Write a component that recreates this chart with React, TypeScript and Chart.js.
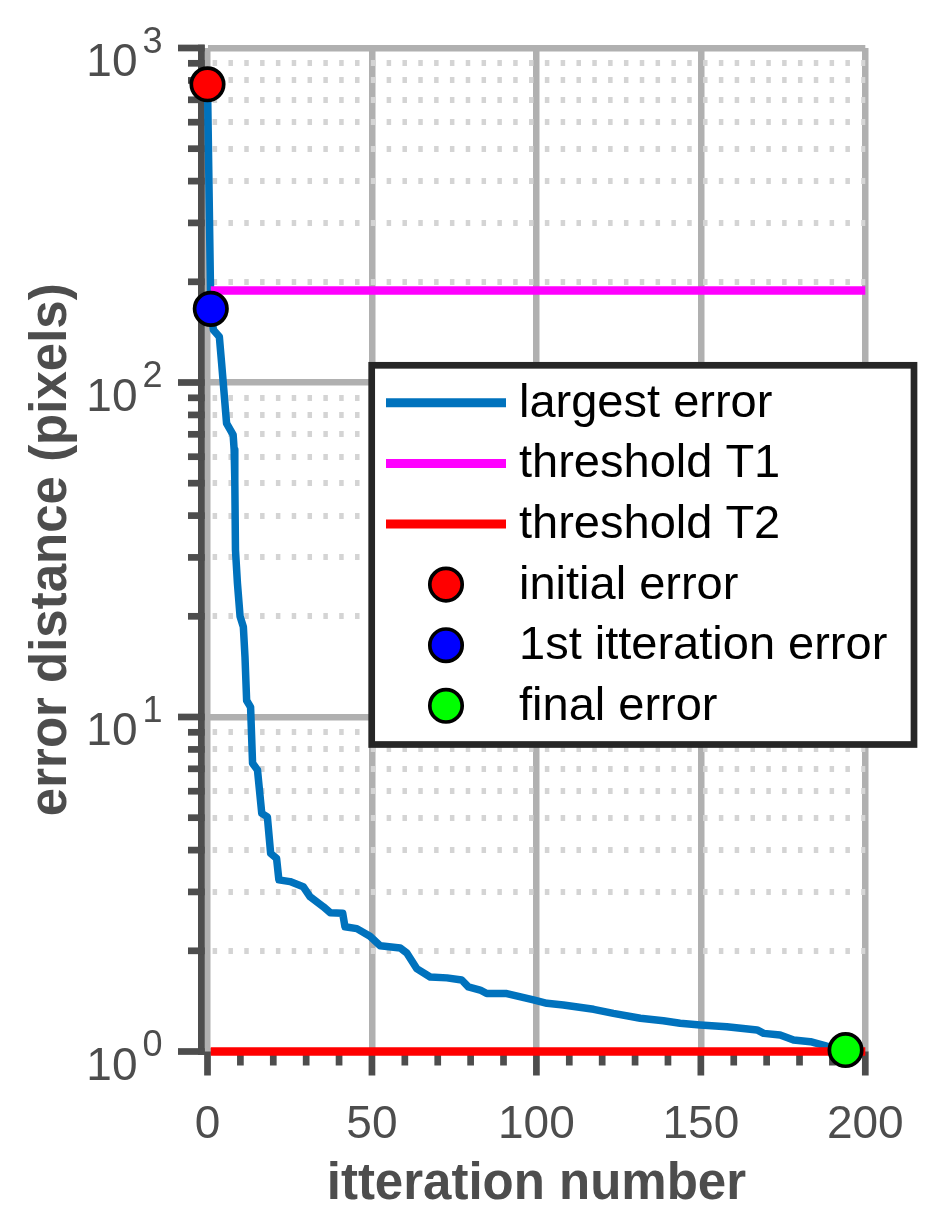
import React, { useEffect, useRef } from 'react';
import { Chart, registerables } from 'chart.js';

Chart.register(...registerables);

// ---------------- data ----------------
const ITERATIONS = [
  0, 1, 1.8, 3.6, 4.3, 5.8, 7.8, 8.1, 8.3, 8.5, 9.1, 9.9, 10.9, 11.4, 11.9, 13.1, 13.7,
  15.2, 16.5, 18.2, 19.2, 21, 21.7, 25.1, 29.1, 31.2, 35.2, 37.3, 41.1, 41.8, 45.4,
  49.4, 52.5, 58.6, 60.6, 63.6, 67.7, 72.8, 77.3, 79.3, 82.9, 84.9, 91, 99.1, 103.2,
  108.2, 117.4, 123.4, 131.6, 138.6, 143.7, 149.8, 157.9, 167.1, 169.1, 174.1, 178.2,
  183.3, 188.3, 194,
];
const LARGEST_ERROR = [
  779, 166, 143.5, 137, 114, 75.5, 69.7, 62.9, 51.1, 31.6, 25.1, 20, 18.6, 15.1, 11.2, 10.7, 7.27,
  6.94, 5.15, 5.03, 3.91, 3.78, 3.26, 3.22, 3.11, 2.9, 2.71, 2.6, 2.59, 2.36, 2.33,
  2.21, 2.07, 2.04, 1.97, 1.77, 1.67, 1.66, 1.636, 1.56, 1.527, 1.49, 1.49, 1.426, 1.393,
  1.377, 1.337, 1.3, 1.257, 1.236, 1.214, 1.2, 1.186, 1.16, 1.133, 1.12, 1.082,
  1.07, 1.038, 1.01,
];
const THRESHOLD_X = [1, 200];
const THRESHOLD_T1 = 188.5;
const THRESHOLD_T2 = 1;

const X_TICKS = [0, 10, 20, 30, 40, 50, 60, 70, 80, 90, 100, 110, 120, 130, 140, 150, 160, 170, 180, 190, 200];
const X_LABELED = [0, 50, 100, 150, 200];
const Y_TICKS = [
  1, 2, 3, 4, 5, 6, 7, 8, 9,
  10, 20, 30, 40, 50, 60, 70, 80, 90,
  100, 200, 300, 400, 500, 600, 700, 800, 900,
  1000,
];
const Y_DECADES = [1, 10, 100, 1000];

const SERIES_LABELS = [
  'largest error',
  'threshold T1',
  'threshold T2',
  'initial error',
  '1st itteration error',
  'final error',
];
const X_TITLE = 'itteration number';
const Y_TITLE = 'error distance (pixels)';

// ---------------- styles ----------------
const W = 936;
const H = 1225;
const FONT = '"Liberation Sans", Arial, Helvetica, sans-serif';
const TEXT = '#4d4d4d';
const AXIS = '#4d4d4d';
const GRID = '#b0b0b0';
const MINOR_GRID = '#d4d4d4';
const TW = 6.7;

const isDecade = (v: number) => Math.abs(Math.log10(v) - Math.round(Math.log10(v))) < 1e-9;

const decorPlugin = {
  id: 'decor',
  beforeDatasetsDraw(chart: any) {
    const { ctx, chartArea, scales } = chart;
    const x = scales.x;
    const y = scales.y;
    ctx.save();
    ctx.fillStyle = AXIS;
    // y axis line
    ctx.fillRect(chartArea.left - 9.5, chartArea.top - TW / 2, TW, chartArea.bottom - chartArea.top + TW);
    // y ticks
    y.ticks.forEach((t: any) => {
      const py = y.getPixelForValue(t.value);
      const major = isDecade(t.value);
      const xs = chartArea.left - (major ? 29.5 : 19.5);
      const xe = chartArea.left - 2.8;
      ctx.fillRect(xs, py - TW / 2, xe - xs, TW);
    });
    // x ticks
    x.ticks.forEach((t: any) => {
      const px = x.getPixelForValue(t.value);
      const major = X_LABELED.includes(t.value);
      ctx.fillRect(px - TW / 2, chartArea.bottom, TW, major ? 24 : 14);
    });
    ctx.restore();
  },
  afterDraw(chart: any) {
    const { ctx, scales, chartArea } = chart;
    const x = scales.x;
    const y = scales.y;
    ctx.save();
    ctx.fillStyle = TEXT;
    // x tick labels
    ctx.font = `46px ${FONT}`;
    ctx.textAlign = 'center';
    ctx.textBaseline = 'alphabetic';
    X_LABELED.forEach((v) => {
      ctx.fillText(String(v), x.getPixelForValue(v), chartArea.bottom + 86.5);
    });
    // y tick labels with superscript exponents
    Y_DECADES.forEach((v) => {
      const py = y.getPixelForValue(v);
      const e = Math.round(Math.log10(v));
      ctx.font = `46px ${FONT}`;
      ctx.textAlign = 'right';
      ctx.textBaseline = 'alphabetic';
      ctx.fillText('10', 137.5, py + 28);
      ctx.font = `36px ${FONT}`;
      ctx.textAlign = 'left';
      ctx.fillText(String(e), 142.5, py + 4.5);
    });

    // legend
    const L = 371.7, T = 365.3, R = 914, B = 744.5;
    ctx.fillStyle = '#ffffff';
    ctx.fillRect(L, T, R - L, B - T);
    ctx.strokeStyle = '#262626';
    ctx.lineWidth = TW;
    ctx.strokeRect(L, T, R - L, B - T);
    chart.data.datasets.forEach((ds: any, i: number) => {
      const cy = 402.8 + 60.6 * i;
      if (ds.showLine === false) {
        ctx.beginPath();
        ctx.arc(446, cy, ds.pointRadius, 0, Math.PI * 2);
        ctx.fillStyle = ds.pointBackgroundColor;
        ctx.fill();
        ctx.lineWidth = ds.pointBorderWidth;
        ctx.strokeStyle = ds.pointBorderColor;
        ctx.stroke();
      } else {
        ctx.beginPath();
        ctx.moveTo(386, cy);
        ctx.lineTo(506, cy);
        ctx.lineWidth = 9;
        ctx.lineCap = 'butt';
        ctx.strokeStyle = ds.borderColor;
        ctx.stroke();
      }
      ctx.fillStyle = '#000000';
      ctx.font = `47px ${FONT}`;
      ctx.textAlign = 'left';
      ctx.textBaseline = 'middle';
      ctx.fillText(ds.label, 519, cy + 1);
    });
    ctx.restore();
  },
};

export default function App() {
  const canvasRef = useRef<HTMLCanvasElement | null>(null);

  useEffect(() => {
    if (!canvasRef.current) return;
    const last = ITERATIONS.length - 1;
    const marker = (label: string, xi: number, color: string) => ({
      label,
      data: [{ x: ITERATIONS[xi], y: LARGEST_ERROR[xi] }],
      showLine: false,
      pointRadius: 16.2,
      pointBorderWidth: 3.7,
      pointBackgroundColor: color,
      pointBorderColor: '#000000',
      order: 0,
      clip: false as any,
    });
    const chart = new Chart(canvasRef.current, {
      type: 'line',
      data: {
        datasets: [
          {
            label: SERIES_LABELS[0],
            data: ITERATIONS.map((x, i) => ({ x, y: LARGEST_ERROR[i] })),
            borderColor: '#0072BD',
            borderWidth: 7.5,
            pointRadius: 0,
            tension: 0,
            borderJoinStyle: 'round',
            order: 3,
            clip: false as any,
          },
          {
            label: SERIES_LABELS[1],
            data: THRESHOLD_X.map((x) => ({ x, y: THRESHOLD_T1 })),
            borderColor: '#FF00FF',
            borderWidth: 8.5,
            pointRadius: 0,
            borderCapStyle: 'butt',
            order: 2,
            clip: false as any,
          },
          {
            label: SERIES_LABELS[2],
            data: THRESHOLD_X.map((x) => ({ x, y: THRESHOLD_T2 })),
            borderColor: '#FF0000',
            borderWidth: 8.5,
            pointRadius: 0,
            borderCapStyle: 'butt',
            order: 1,
            clip: false as any,
          },
          marker(SERIES_LABELS[3], 0, '#FF0000'),
          marker(SERIES_LABELS[4], 1, '#0000FF'),
          marker(SERIES_LABELS[5], last, '#00FF00'),
        ] as any,
      },
      options: {
        animation: false,
        responsive: false,
        maintainAspectRatio: false,
        devicePixelRatio: 1,
        events: [],
        layout: { padding: { top: 48, right: 70.7, bottom: 0, left: 0 } },
        plugins: { legend: { display: false }, tooltip: { enabled: false } },
        scales: {
          x: {
            type: 'linear',
            min: 0,
            max: 200,
            afterBuildTicks: (s: any) => {
              s.ticks = X_TICKS.map((v) => ({ value: v }));
            },
            afterFit: (s: any) => {
              s.height = 173.5;
            },
            ticks: { display: false },
            grid: {
              drawTicks: false,
              color: (c: any) => (c.tick && X_LABELED.includes(c.tick.value) ? GRID : 'rgba(0,0,0,0)'),
              lineWidth: 6.5,
            },
            border: { display: false },
            title: {
              display: true,
              text: X_TITLE,
              color: TEXT,
              font: { family: FONT, size: 51, weight: 'bold' },
              padding: { top: 0, bottom: 9.1 },
            },
          },
          y: {
            type: 'logarithmic',
            min: 1,
            max: 1000,
            afterBuildTicks: (s: any) => {
              s.ticks = Y_TICKS.map((v) => ({ value: v, major: isDecade(v) }));
            },
            afterFit: (s: any) => {
              s.width = 207.5;
            },
            ticks: { display: false },
            grid: {
              drawTicks: false,
              color: (c: any) => (c.tick && isDecade(c.tick.value) ? GRID : MINOR_GRID),
              lineWidth: (c: any) => (c.tick && isDecade(c.tick.value) ? 6.5 : 6),
            },
            border: {
              display: false,
              dash: (c: any) => (c.tick && !isDecade(c.tick.value) ? [4.5, 11.32] : []),
              dashOffset: 11.2,
            },
            title: {
              display: true,
              text: Y_TITLE,
              color: TEXT,
              font: { family: FONT, size: 51, weight: 'bold' },
              padding: { top: 21.4, bottom: 0 },
            },
          },
        },
      } as any,
      plugins: [decorPlugin],
    });
    return () => chart.destroy();
  }, []);

  return (
    <div style={{ position: 'absolute', left: 0, top: 0, width: W, height: H, background: '#ffffff', overflow: 'hidden' }}>
      <canvas ref={canvasRef} width={W} height={H} style={{ display: 'block', width: W, height: H }} />
    </div>
  );
}
